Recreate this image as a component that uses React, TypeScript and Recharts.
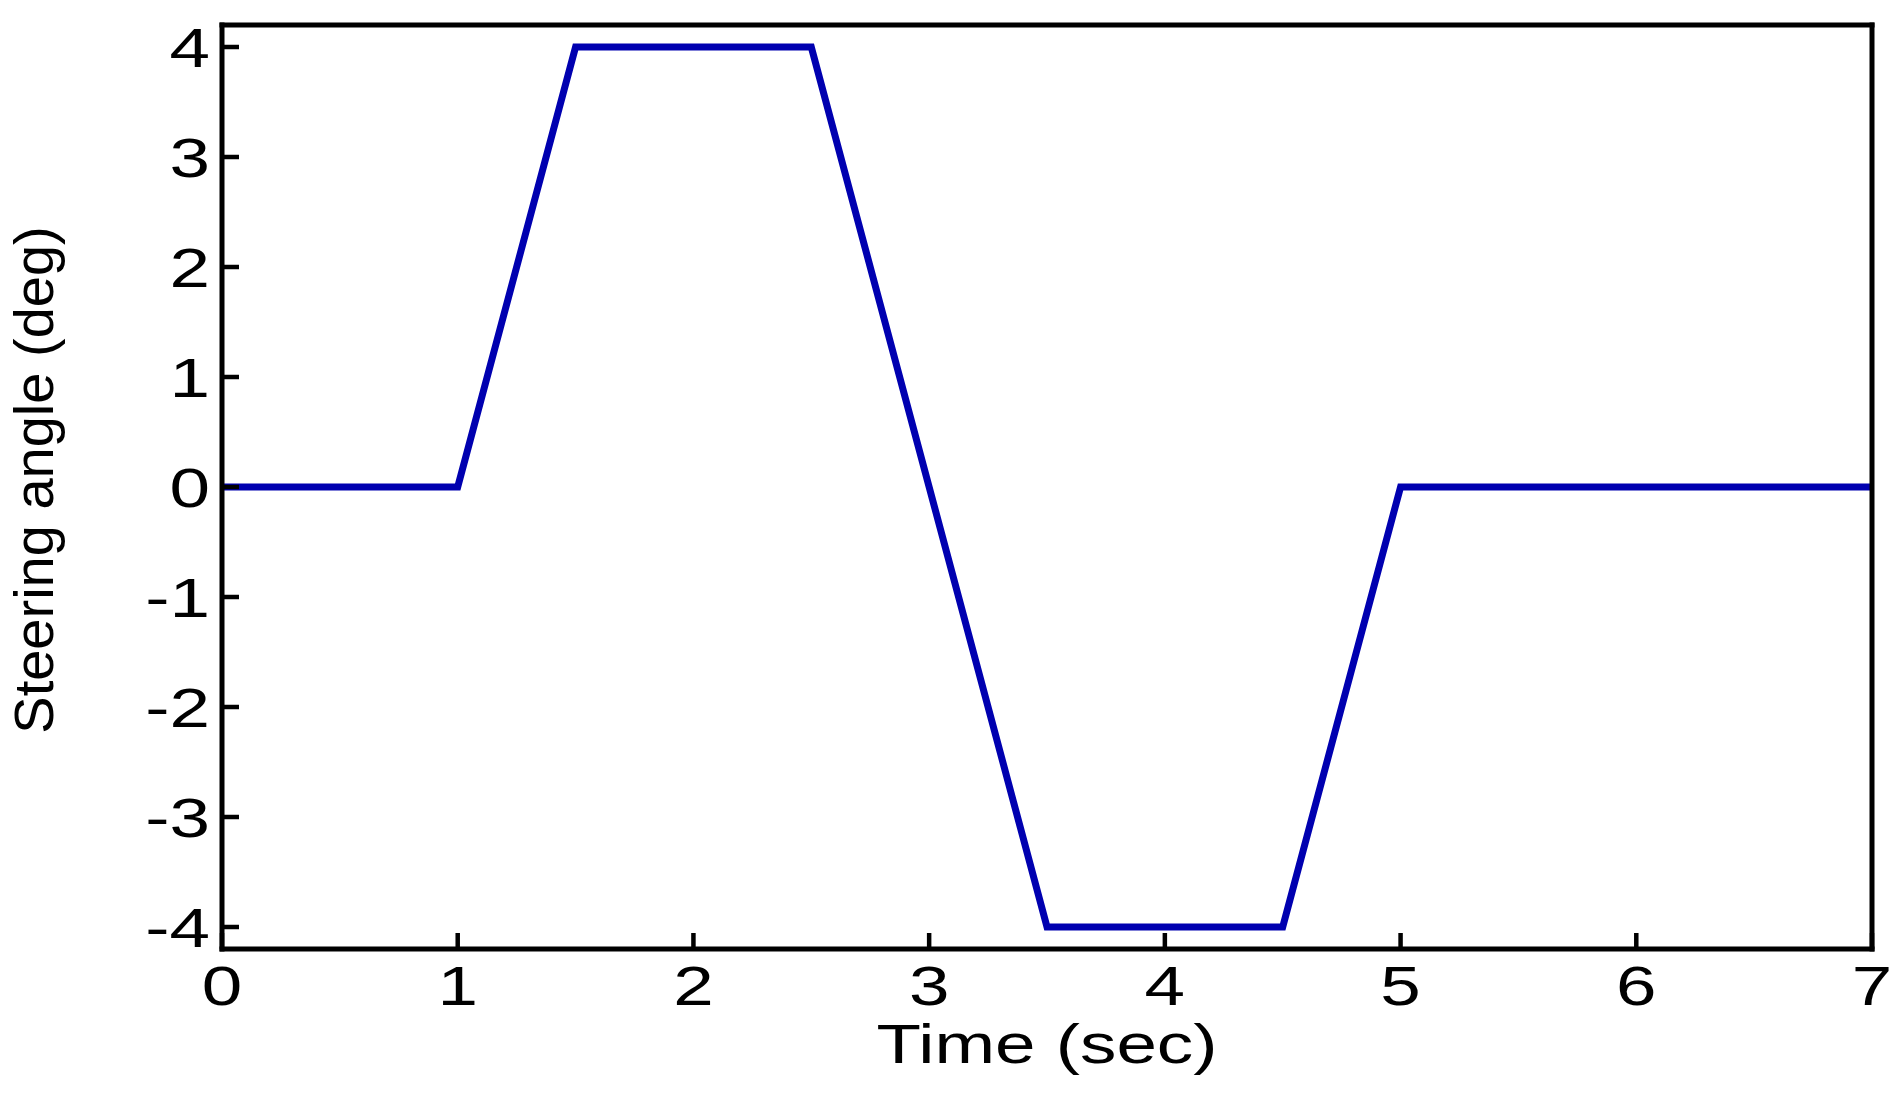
import { Label, Line, LineChart, XAxis, YAxis } from "recharts";

const times = [0, 1, 1.5, 2.5, 3.5, 4.5, 5, 7];
const angles = [0, 0, 4, 4, -4, -4, 0, 0];
const timeTicks = [0, 1, 2, 3, 4, 5, 6, 7];
const angleTicks = [-4, -3, -2, -1, 0, 1, 2, 3, 4];

const data = times.map((t, i) => ({ t, angle: angles[i] }));

const FONT = "'Liberation Sans', Arial, Helvetica, sans-serif";
const STRETCH = "scale(1.3,1)";

// ticks point inwards (mirror axes), so labels are placed by hand from the tick end
const XTick = ({ x, y, payload }: any) => (
  <g transform={`translate(${x},${y})`}>
    <text transform={STRETCH} y={72} textAnchor="middle" fontFamily={FONT} fontSize={56} fill="#000">
      {payload.value}
    </text>
  </g>
);

const YTick = ({ x, y, payload }: any) => (
  <g transform={`translate(${x - 29},${y})`}>
    <text transform={STRETCH} y={20} textAnchor="end" fontFamily={FONT} fontSize={56} fill="#000">
      {payload.value}
    </text>
  </g>
);

const XTitle = ({ viewBox }: any) => (
  <text
    transform={`translate(${viewBox.x + viewBox.width / 2},${viewBox.y + viewBox.height + 114}) ${STRETCH}`}
    textAnchor="middle"
    fontFamily={FONT}
    fontSize={56}
    fill="#000"
  >
    Time (sec)
  </text>
);

const YTitle = ({ viewBox }: any) => (
  <text
    transform={`translate(${viewBox.x - 169},${viewBox.y + viewBox.height / 2 - 7}) rotate(-90)`}
    textAnchor="middle"
    fontFamily={FONT}
    fontSize={56}
    fill="#000"
  >
    Steering angle (deg)
  </text>
);

const axisLine = { stroke: "#000", strokeWidth: 5, strokeLinecap: "square" as const };
const tickLine = { stroke: "#000", strokeWidth: 4.5 };

export default function App() {
  return (
    <div style={{ position: "absolute", left: 0, top: 0, background: "#fff" }}>
      <LineChart width={1902} height={1093} data={data} margin={{ top: 25, right: 30, left: 222, bottom: 144 }}>
        <XAxis
          xAxisId="bottom"
          orientation="bottom"
          mirror
          dataKey="t"
          type="number"
          domain={[0, 7]}
          ticks={timeTicks}
          interval={0}
          height={30}
          tickSize={16}
          tickMargin={0}
          axisLine={axisLine}
          tickLine={tickLine}
          tick={<XTick />}
        >
          <Label content={<XTitle />} />
        </XAxis>
        <XAxis
          xAxisId="top"
          orientation="top"
          mirror
          dataKey="t"
          type="number"
          domain={[0, 7]}
          ticks={timeTicks}
          interval={0}
          height={30}
          tickSize={13}
          axisLine={axisLine}
          tickLine={tickLine}
          tick={false}
        />
        <YAxis
          yAxisId="left"
          orientation="left"
          mirror
          type="number"
          domain={[-4.2, 4.2]}
          ticks={angleTicks}
          interval={0}
          width={30}
          tickSize={17}
          tickMargin={0}
          axisLine={axisLine}
          tickLine={tickLine}
          tick={<YTick />}
        >
          <Label content={<YTitle />} />
        </YAxis>
        <YAxis
          yAxisId="right"
          orientation="right"
          mirror
          type="number"
          domain={[-4.2, 4.2]}
          ticks={angleTicks}
          interval={0}
          width={30}
          tickSize={17}
          axisLine={axisLine}
          tickLine={tickLine}
          tick={false}
        />
        <Line
          xAxisId="bottom"
          yAxisId="left"
          type="linear"
          dataKey="angle"
          stroke="#0000b0"
          strokeWidth={7}
          strokeLinejoin="miter"
          dot={false}
          activeDot={false}
          isAnimationActive={false}
        />
      </LineChart>
    </div>
  );
}
